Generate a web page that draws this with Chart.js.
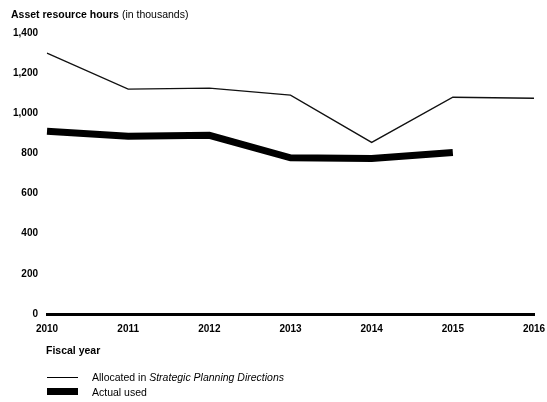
<!DOCTYPE html>
<html>
<head>
<meta charset="utf-8">
<script src="https://cdn.jsdelivr.net/npm/chart.js@4"></script>
<style>
  html, body { margin: 0; padding: 0; background: #fff; }
  body { width: 547px; height: 402px; position: relative; overflow: hidden; font-family: "Liberation Sans", Arial, sans-serif; color: #000; }
  #wrap { position: absolute; left: 0; top: 0; width: 547px; height: 402px; }
  .t { position: absolute; font-size: 10.5px; white-space: nowrap; line-height: 1; }
  .b { font-weight: bold; }
  .sw { position: absolute; background: #000; }
</style>
</head>
<body>
<div id="wrap"><canvas id="c" width="547" height="402"></canvas></div>
<div class="t" style="left:11px; top:9px;"><span class="b">Asset resource hours</span> (in thousands)</div>
<div class="t b" style="left:46px; top:345px;">Fiscal year</div>
<div class="sw" style="left:47px; top:377px; width:31px; height:1px;"></div>
<div class="t" style="left:92px; top:372px;">Allocated in <i>Strategic Planning Directions</i></div>
<div class="sw" style="left:47px; top:388px; width:31px; height:7px;"></div>
<div class="t" style="left:92px; top:387px;">Actual used</div>
<script>
const years = ["2010", "2011", "2012", "2013", "2014", "2015", "2016"];
const allocated = [1300, 1120, 1125, 1090, 855, 1080, 1075];
const actualUsed = [910, 885, 890, 778, 775, 805, null];
const yTicks = [0, 200, 400, 600, 800, 1000, 1200, 1400];

new Chart(document.getElementById('c'), {
  type: 'line',
  data: {
    labels: years,
    datasets: [
      { label: 'Allocated in Strategic Planning Directions', data: allocated, borderColor: '#111', borderWidth: 1.3, pointRadius: 0, tension: 0, fill: false },
      { label: 'Actual used', data: actualUsed, borderColor: '#000', borderWidth: 7, pointRadius: 0, tension: 0, fill: false, borderCapStyle: 'butt' }
    ]
  },
  options: {
    responsive: false,
    animation: false,
    layout: { padding: { top: 33, left: 0, right: 0, bottom: 0 } },
    plugins: { legend: { display: false }, tooltip: { enabled: false }, title: { display: false } },
    scales: {
      x: {
        type: 'category',
        offset: false,
        grid: { display: false, drawTicks: false },
        border: { display: true, color: '#000', width: 3 },
        ticks: { color: '#000', font: { family: '"Liberation Sans", Arial, sans-serif', size: 10, weight: 'bold' }, padding: 9, maxRotation: 0, autoSkip: false },
        afterFit: (s) => { s.height = 88; s.paddingRight = 13; s.paddingLeft = 0; }
      },
      y: {
        min: 0, max: 1400,
        afterBuildTicks: (s) => { s.ticks = yTicks.map(v => ({ value: v })); },
        grid: { display: false, drawTicks: false },
        border: { display: false },
        ticks: {
          color: '#000', padding: 9,
          font: { family: '"Liberation Sans", Arial, sans-serif', size: 10, weight: 'bold' },
          callback: (v) => v.toLocaleString('en-US')
        },
        afterFit: (s) => { s.width = 47; }
      }
    }
  }
});
</script>
</body>
</html>
